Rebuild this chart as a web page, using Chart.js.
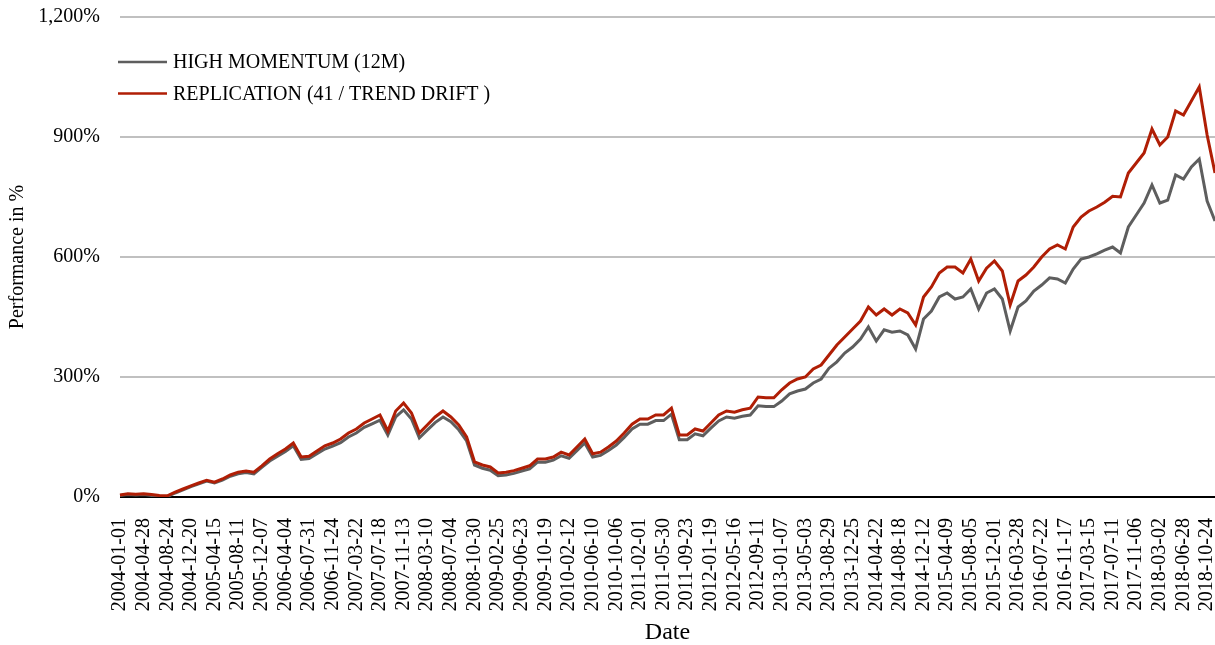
<!DOCTYPE html>
<html lang="en">
<head>
<meta charset="UTF-8">
<title>High Momentum vs Replication</title>
<script src="https://cdn.jsdelivr.net/npm/chart.js@4.4.0/dist/chart.umd.min.js"></script>
<style>
  html, body { margin: 0; padding: 0; background: #fff; }
  #contenedor { width: 1215px; height: 645px; position: relative; }
</style>
</head>
<body>
<div id="contenedor"><canvas id="myChart"></canvas></div>
<script>
// Fechas que aparecen en el eje X (una cada 84 dias habiles)
const fechasEje = [
  '2004-01-01', '2004-04-28', '2004-08-24', '2004-12-20', '2005-04-15', '2005-08-11',
  '2005-12-07', '2006-04-04', '2006-07-31', '2006-11-24', '2007-03-22', '2007-07-18',
  '2007-11-13', '2008-03-10', '2008-07-04', '2008-10-30', '2009-02-25', '2009-06-23',
  '2009-10-19', '2010-02-12', '2010-06-10', '2010-10-06', '2011-02-01', '2011-05-30',
  '2011-09-23', '2012-01-19', '2012-05-16', '2012-09-11', '2013-01-07', '2013-05-03',
  '2013-08-29', '2013-12-25', '2014-04-22', '2014-08-18', '2014-12-12', '2015-04-09',
  '2015-08-05', '2015-12-01', '2016-03-28', '2016-07-22', '2016-11-17', '2017-03-15',
  '2017-07-11', '2017-11-06', '2018-03-02', '2018-06-28', '2018-10-24'
];

// Cuantos puntos de la serie hay por cada fecha del eje
const puntosPorFecha = 3;

// Serie gris: HIGH MOMENTUM (12M), en %
const highMomentum = [
  4, 6, 5,   6, 4, 2,   1, 10, 18,   26, 33, 40,   35, 42, 52,   58, 61, 58,
  74, 90, 102,   114, 128, 94,   96, 108, 120,   127, 136, 150,   160, 174, 183,
  192, 155, 200,   218, 195, 148,   167, 186, 200,   188, 168, 140,   80, 72, 67,
  53, 55, 59,   65, 70, 87,   87, 92, 103,   97, 116, 135,   100, 104, 116,
  130, 149, 170,   182, 182, 191,   191, 207, 143,   143, 158, 153,   172, 190, 200,
  197, 202, 205,   228, 226, 226,   240, 258, 265,   270, 285, 295,   322, 338, 360,
  375, 395, 425,   390, 418, 412,   415, 405, 370,   445, 465, 500,   510, 495, 500,
  520, 470, 510,   520, 495, 415,   475, 490, 515,   530, 548, 545,   535, 570, 595,
  600, 608, 617,   625, 610, 675,   705, 735, 780,   735, 742, 805,   795, 825, 845,
  740, 690
];

// Serie roja: REPLICATION (41 / TREND DRIFT ), en %
const replicacion = [
  5, 8, 7,   8, 6, 4,   3, 12, 20,   28, 35, 42,   37, 45, 55,   62, 65, 62,
  78, 95, 108,   120, 135, 100,   102, 115, 128,   135, 145, 160,   170, 185, 195,
  205, 165, 215,   235, 210, 160,   180, 200, 215,   200, 180, 150,   88, 80, 75,
  60, 62, 66,   72, 78, 95,   95, 100, 112,   105, 125, 145,   108, 112, 125,
  140, 160, 182,   195, 195, 205,   205, 222, 155,   155, 170, 165,   185, 205, 215,
  212, 218, 222,   250, 248, 248,   268, 285, 295,   300, 320, 330,   355, 380, 400,
  420, 440, 475,   455, 470, 455,   470, 460, 430,   500, 525, 560,   575, 575, 560,
  595, 540, 572,   590, 565, 480,   540, 555, 575,   600, 620, 630,   620, 675, 700,
  715, 725, 737,   752, 750, 810,   835, 860, 920,   880, 900, 965,   955, 990, 1025,
  905, 810
];

const nombresSeries = ['HIGH MOMENTUM (12M)', 'REPLICATION (41 / TREND DRIFT )'];
const coloresSeries = ['#5E5E5E', '#B01E05'];

const fuente = '"Liberation Serif", "Times New Roman", serif';

// Leyenda dibujada dentro del area del grafico (arriba a la izquierda)
const leyendaInterna = {
  id: 'leyendaInterna',
  afterDraw(chart) {
    const ctx = chart.ctx;
    const x0 = chart.chartArea.left - 2;
    ctx.save();
    ctx.font = '20px ' + fuente;
    ctx.textBaseline = 'middle';
    chart.data.datasets.forEach((ds, i) => {
      const y = chart.chartArea.top + 45 + i * 31.5;
      ctx.strokeStyle = ds.borderColor;
      ctx.lineWidth = 2.5;
      ctx.beginPath();
      ctx.moveTo(x0, y);
      ctx.lineTo(x0 + 49, y);
      ctx.stroke();
      ctx.fillStyle = '#000';
      ctx.fillText(ds.label, x0 + 55, y + 1);
    });
    ctx.restore();
  }
};

let myChart;

function dibujarGrafica() {
  // Etiquetas: solo las posiciones que coinciden con una fecha del eje llevan texto
  const etiquetas = replicacion.map((_, k) => (k % puntosPorFecha === 0 ? fechasEje[k / puntosPorFecha] : ''));

  const ctx = document.getElementById('myChart').getContext('2d');
  if (myChart) {
    myChart.destroy();
  }

  myChart = new Chart(ctx, {
    type: 'line',
    data: {
      labels: etiquetas,
      datasets: [
        {
          label: nombresSeries[0],
          data: highMomentum,
          borderColor: coloresSeries[0],
          borderWidth: 3,
          pointRadius: 0,
          tension: 0,
          fill: false,
          order: 1
        },
        {
          label: nombresSeries[1],
          data: replicacion,
          borderColor: coloresSeries[1],
          borderWidth: 3,
          pointRadius: 0,
          tension: 0,
          fill: false,
          order: 0
        }
      ]
    },
    options: {
      responsive: true,
      maintainAspectRatio: false,
      animation: false,
      devicePixelRatio: 1,
      layout: { padding: { left: 2, right: 0, top: 17, bottom: 0 } },
      plugins: {
        legend: { display: false },
        tooltip: { enabled: false }
      },
      scales: {
        x: {
          grid: { display: false },
          border: { display: false },
          ticks: {
            autoSkip: false,
            minRotation: 90,
            maxRotation: 90,
            padding: 13,
            color: '#000',
            font: { family: fuente, size: 20 }
          },
          title: {
            display: true,
            text: 'Date',
            color: '#000',
            padding: 0,
            font: { family: fuente, size: 24, lineHeight: 1 }
          },
          afterFit(scale) {
            scale.height = 148;
            scale.paddingLeft = 0;
            scale.paddingRight = 0;
          }
        },
        y: {
          min: 0,
          max: 1200,
          border: { display: false },
          grid: {
            drawTicks: false,
            lineWidth: 2,
            color: (c) => (c.tick && c.tick.value === 0 ? '#000' : '#C0C0C0')
          },
          ticks: {
            stepSize: 300,
            padding: 20,
            color: '#000',
            font: { family: fuente, size: 20 },
            callback: (v) => v.toLocaleString('en-US') + '%'
          },
          title: {
            display: true,
            text: 'Performance in %',
            color: '#000',
            padding: { top: 4, bottom: 4 },
            font: { family: fuente, size: 20 }
          },
          afterFit(scale) {
            scale.width = 118;
            scale.paddingTop = 0;
            scale.paddingBottom = 0;
          }
        }
      }
    },
    plugins: [leyendaInterna]
  });
}

dibujarGrafica();
</script>
</body>
</html>
